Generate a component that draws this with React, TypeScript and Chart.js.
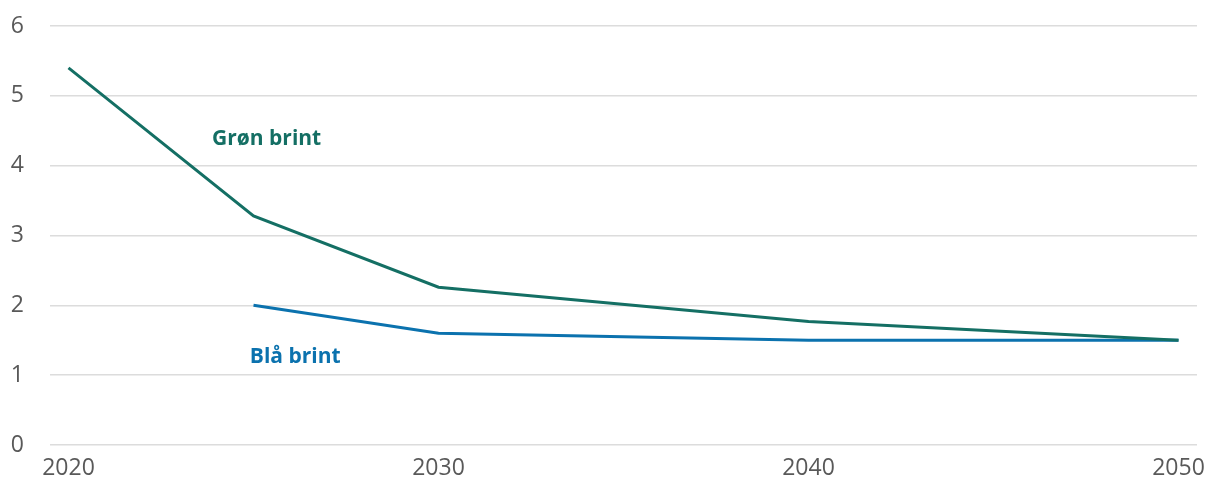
import React, { useEffect, useRef } from "react";
import { Chart, registerables } from "chart.js";

Chart.register(...registerables);

// Years shown on the x axis and the two hydrogen cost paths
const years = [2020, 2025, 2030, 2040, 2050];
const greenHydrogen = [5.4, 3.28, 2.26, 1.77, 1.5];
const blueHydrogen = [null, 2.0, 1.6, 1.5, 1.5];
const xTickYears = [2020, 2030, 2040, 2050];
const yTicks = [0, 1, 2, 3, 4, 5, 6];

const GREEN = "#146f64";
const BLUE = "#0b72ae";
const FONT = "'Open Sans', sans-serif";

const seriesLabels = [
  { text: "Grøn brint", x: 2023.88, y: 4.38, color: GREEN },
  { text: "Blå brint", x: 2024.9, y: 1.26, color: BLUE },
];

const seriesLabelPlugin = {
  id: "seriesLabels",
  afterDatasetsDraw(chart: any) {
    const { ctx, scales } = chart;
    ctx.save();
    ctx.font = `bold 21px ${FONT}`;
    ctx.textAlign = "left";
    ctx.textBaseline = "middle";
    for (const l of seriesLabels) {
      ctx.fillStyle = l.color;
      ctx.fillText(l.text, scales.x.getPixelForValue(l.x), scales.y.getPixelForValue(l.y));
    }
    ctx.restore();
  },
};

export default function App() {
  const canvasRef = useRef<HTMLCanvasElement | null>(null);

  useEffect(() => {
    if (!canvasRef.current) return;
    const chart = new Chart(canvasRef.current, {
      type: "line",
      data: {
        datasets: [
          {
            label: "Grøn brint",
            data: years.map((y, i) => ({ x: y, y: greenHydrogen[i] })),
            borderColor: GREEN,
            borderWidth: 3,
            pointRadius: 0,
            tension: 0,
          },
          {
            label: "Blå brint",
            data: years
              .map((y, i) => ({ x: y, y: blueHydrogen[i] }))
              .filter((p) => p.y !== null) as any,
            borderColor: BLUE,
            borderWidth: 3,
            pointRadius: 0,
            tension: 0,
          },
        ],
      },
      options: {
        animation: false,
        responsive: false,
        maintainAspectRatio: false,
        layout: { padding: { top: 26, right: 11, left: 0, bottom: 0 } },
        plugins: { legend: { display: false }, tooltip: { enabled: false } },
        scales: {
          x: {
            type: "linear",
            min: 2019.5,
            max: 2050.5,
            afterFit(scale: any) {
              scale.height = 43;
              scale.paddingLeft = 0;
              scale.paddingRight = 0;
            },
            afterBuildTicks(scale: any) {
              scale.ticks = xTickYears.map((v) => ({ value: v }));
            },
            grid: { display: false, drawTicks: false },
            border: { display: false },
            ticks: {
              color: "#595959",
              font: { family: FONT, size: 23 },
              padding: 10,
              maxRotation: 0,
              autoSkip: false,
              callback: (v: any) => String(v),
            },
          },
          y: {
            min: 0,
            max: 6,
            afterFit(scale: any) {
              scale.width = 50;
              scale.paddingTop = 0;
              scale.paddingBottom = 0;
            },
            afterBuildTicks(scale: any) {
              scale.ticks = yTicks.map((v) => ({ value: v }));
            },
            grid: { color: "#dcdcdc", lineWidth: 1.5, drawTicks: false },
            border: { display: false },
            ticks: {
              color: "#595959",
              font: { family: FONT, size: 23 },
              padding: 26,
            },
          },
        },
      },
      plugins: [seriesLabelPlugin],
    });
    return () => chart.destroy();
  }, []);

  return (
    <div style={{ position: "absolute", left: 0, top: 0, width: 1208, height: 488 }}>
      <canvas ref={canvasRef} width={1208} height={488} />
    </div>
  );
}
